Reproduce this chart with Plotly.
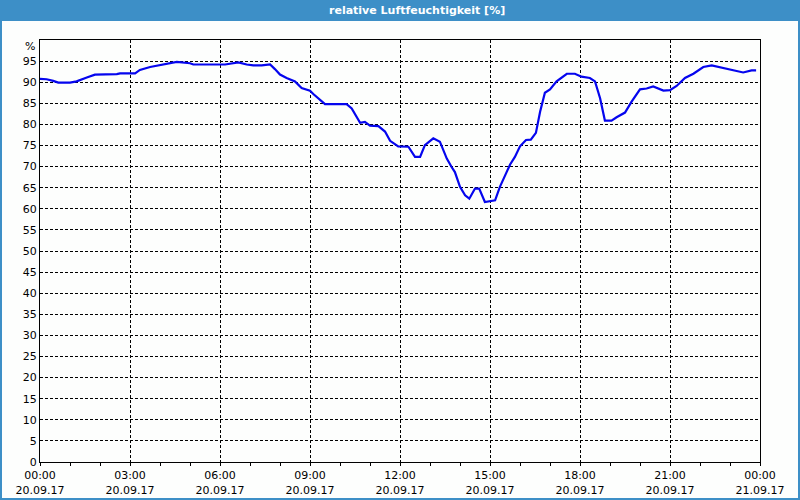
import plotly.graph_objects as go
import pandas as pd

# ---- data ----
hours = [0.0, 0.22, 0.44, 0.61, 1.0, 1.22, 1.56, 1.83, 2.56, 2.67, 3.17, 3.33, 3.67,
         4.22, 4.56, 5.0, 5.11, 6.17, 6.61, 6.89, 7.11, 7.39, 7.67, 7.83, 8.0, 8.22,
         8.5, 8.72, 9.0, 9.11, 9.5, 10.22, 10.39, 10.67, 10.83, 11.0, 11.28, 11.5,
         11.67, 11.94, 12.28, 12.5, 12.67, 12.83, 13.11, 13.33, 13.56, 13.72, 13.83,
         14.0, 14.17, 14.31, 14.5, 14.64, 14.83, 15.17, 15.33, 15.67, 15.83, 16.0,
         16.2, 16.36, 16.53, 16.67, 16.83, 17.0, 17.22, 17.56, 17.83, 18.05, 18.33,
         18.5, 18.67, 18.83, 19.05, 19.22, 19.5, 19.72, 20.0, 20.22, 20.44, 20.78,
         21.0, 21.22, 21.5, 21.78, 22.11, 22.39, 22.67, 23.0, 23.44, 23.72, 23.87]
humidity = [90.8, 90.7, 90.3, 89.9, 89.9, 90.2, 91.1, 91.8, 91.9, 92.1, 92.1, 92.9, 93.6,
            94.4, 94.8, 94.5, 94.2, 94.2, 94.7, 94.2, 94.0, 94.0, 94.2, 93.1, 91.8, 91.0,
            90.2, 88.6, 88.0, 87.2, 84.8, 84.8, 83.8, 80.4, 80.6, 79.7, 79.6, 78.3,
            76.1, 74.8, 74.7, 72.3, 72.3, 75.1, 76.7, 75.9, 71.9, 69.9, 68.7,
            65.2, 63.2, 62.4, 64.8, 64.8, 61.6, 62.0, 65.2, 70.5, 72.3, 74.8,
            76.3, 76.4, 78.0, 83.0, 87.5, 88.3, 90.2, 92.0, 92.0, 91.3, 91.0,
            90.2, 86.2, 80.9, 80.9, 81.7, 82.8, 85.4, 88.3, 88.5, 89.0, 88.0,
            88.1, 89.1, 91.0, 92.0, 93.6, 94.0, 93.5, 93.0, 92.3, 92.8, 92.8]

start = pd.Timestamp("2017-09-20 00:00")
x_times = [start + pd.Timedelta(hours=h) for h in hours]

tick_hours = [0, 3, 6, 9, 12, 15, 18, 21, 24]
tick_labels = ["00:00<br>20.09.17", "03:00<br>20.09.17", "06:00<br>20.09.17",
               "09:00<br>20.09.17", "12:00<br>20.09.17", "15:00<br>20.09.17",
               "18:00<br>20.09.17", "21:00<br>20.09.17", "00:00<br>21.09.17"]
tick_times = [start + pd.Timedelta(hours=h) for h in tick_hours]
y_ticks = list(range(0, 100, 5))

title_text = "relative Luftfeuchtigkeit [%]"
unit_text = "%"

# ---- layout geometry (pixels) ----
W, H = 800, 500
L, R, T, B = 40, 40, 40, 38
PW, PH = W - L - R, H - T - B


def px(xp):
    return (xp - L) / PW


def py(yp):
    return 1 - (yp - T) / PH


BLUE = "#3d8fc7"
BG = "#fdfefd"

fig = go.Figure()
fig.add_trace(go.Scatter(x=x_times, y=humidity, mode="lines",
                         line=dict(color="#0505ee", width=2.2), hoverinfo="skip"))

fig.update_layout(
    width=W, height=H,
    margin=dict(l=L, r=R, t=T, b=B, pad=0, autoexpand=False),
    paper_bgcolor=BG, plot_bgcolor=BG,
    showlegend=False,
    font=dict(family="DejaVu Sans", size=10, color="black"),
    shapes=[
        dict(type="rect", xref="paper", yref="paper",
             x0=px(0), x1=px(W), y0=py(0), y1=py(20),
             fillcolor=BLUE, line=dict(width=0), layer="above"),
        dict(type="rect", xref="paper", yref="paper",
             x0=px(1), x1=px(W - 1), y0=py(20), y1=py(H - 1),
             line=dict(color=BLUE, width=2), fillcolor="rgba(0,0,0,0)", layer="above"),
    ],
    annotations=[
        dict(text="<b>" + title_text + "</b>", xref="paper", yref="paper",
             x=px(417), y=py(10), xanchor="center", yanchor="middle", showarrow=False,
             font=dict(family="DejaVu Sans", size=11, color="white")),
        dict(text=unit_text, xref="paper", yref="paper",
             x=px(37), y=py(46), xanchor="right", yanchor="middle", showarrow=False,
             font=dict(family="DejaVu Sans", size=11, color="black")),
    ],
)

fig.update_xaxes(
    range=[start, start + pd.Timedelta(hours=24)],
    tickvals=tick_times, ticktext=tick_labels,
    ticks="outside", ticklen=3, tickcolor="black",
    minor=dict(dtick=3600000, ticks="outside", ticklen=3, tickcolor="black", showgrid=False),
    showgrid=True, gridcolor="black", gridwidth=1, griddash="3px,2px",
    showline=True, linecolor="black", linewidth=1, mirror=True,
    zeroline=False, tickfont=dict(size=11), fixedrange=True, automargin=False,
)
fig.update_yaxes(
    range=[0, 100], tickvals=y_ticks, ticktext=[str(v) for v in y_ticks],
    ticks="", showgrid=True, gridcolor="black", gridwidth=1, griddash="3px,2px",
    showline=True, linecolor="black", linewidth=1, mirror=True,
    zeroline=False, tickfont=dict(size=11), fixedrange=True, automargin=False,
)

fig.write_html("out.html")
